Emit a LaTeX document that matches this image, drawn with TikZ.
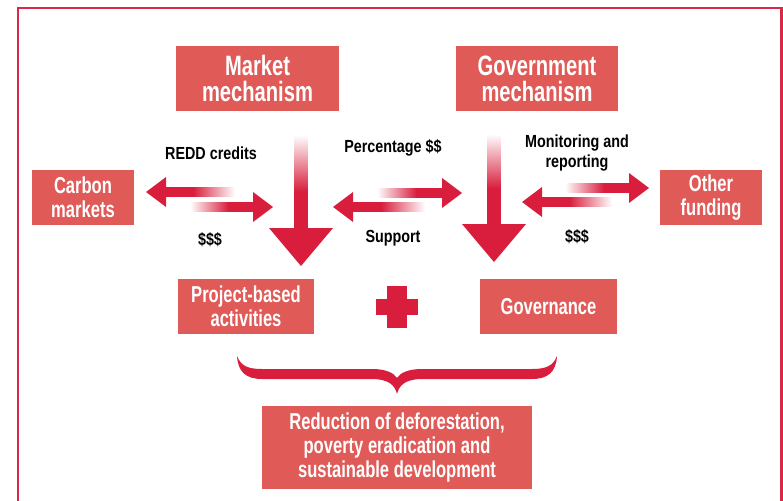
\documentclass[tikz,border=0pt]{standalone}
\usepackage{fontspec}
\setmainfont{Liberation Sans}
\newfontfamily\boxfont{Liberation Sans}[FakeStretch=0.72]
\newfontfamily\lblfont{Liberation Sans}[FakeStretch=0.82]
\usepackage{tikz}
\usetikzlibrary{positioning}

\definecolor{boxred}{RGB}{224,90,88}
\definecolor{arrowred}{RGB}{216,30,60}
\definecolor{framered}{RGB}{220,40,72}

\pgfdeclarehorizontalshading{fadeR}{100bp}{color(0bp)=(white); color(25bp)=(white); color(55bp)=(arrowred); color(100bp)=(arrowred)}
\pgfdeclarehorizontalshading{fadeL}{100bp}{color(0bp)=(arrowred); color(45bp)=(arrowred); color(75bp)=(white); color(100bp)=(white)}
\pgfdeclareverticalshading{fadeD}{100bp}{color(0bp)=(arrowred); color(45bp)=(arrowred); color(75bp)=(white); color(100bp)=(white)}

\newcommand{\arrowR}[2]{%
  \shade[shading=fadeR] ([xshift=-#2pt,yshift=4.5pt]#1) rectangle ([xshift=-19pt,yshift=-4.5pt]#1);
  \fill[arrowred] (#1) -- ([xshift=-20pt,yshift=15pt]#1) -- ([xshift=-20pt,yshift=-15pt]#1) -- cycle;}
\newcommand{\arrowL}[2]{%
  \shade[shading=fadeL] ([xshift=#2pt,yshift=4.5pt]#1) rectangle ([xshift=19pt,yshift=-4.5pt]#1);
  \fill[arrowred] (#1) -- ([xshift=20pt,yshift=15pt]#1) -- ([xshift=20pt,yshift=-15pt]#1) -- cycle;}
\newcommand{\arrowD}[2]{%
  \shade[shading=fadeD] ([xshift=-6.5pt,yshift=#2pt]#1) rectangle ([xshift=6.5pt,yshift=37pt]#1);
  \fill[arrowred] (#1) -- ([xshift=-32pt,yshift=38pt]#1) -- ([xshift=32pt,yshift=38pt]#1) -- cycle;}

\tikzset{
  box/.style={fill=boxred, text=white, align=center, inner sep=0pt,
    font=\boxfont\bfseries\fontsize{23}{24}\selectfont},
  bigbox/.style={box, font=\boxfont\bfseries\fontsize{28}{26}\selectfont},
  lbl/.style={align=center, inner sep=0pt,
    font=\lblfont\bfseries\fontsize{17.5}{20}\selectfont},
}

\begin{document}
\begin{tikzpicture}[x=1pt,y=-1pt]
\useasboundingbox (0,0) rectangle (783,500);
\draw[framered, line width=2.5pt] (18,505) -- (18,8) -- (781.5,8) -- (781.5,505);

% boxes
\node[bigbox, minimum width=163pt, minimum height=65pt] (market) at (257.5,78.5) {Market\\mechanism};
\node[bigbox, minimum width=162pt, minimum height=65pt] (gov) at (537,78.5) {Government\\mechanism};
\node[box, minimum width=102pt, minimum height=55pt] (carbon) at (83,197.5) {Carbon\\markets};
\node[box, minimum width=102pt, minimum height=55pt] (other) at (711,197.5) {Other\\funding};
\node[box, minimum width=136pt, minimum height=55pt] (project) at (246,306.5) {Project-based\\activities};
\node[box, minimum width=137pt, minimum height=55pt] (governance) at (548.5,306.5) {Governance};
\node[box, minimum width=270pt, minimum height=83pt] (result) at (397,447.5) {Reduction of deforestation,\\poverty eradication and\\sustainable development};

% labels
\node[lbl] (redd) at (211,153) {REDD credits};
\node[lbl] (cash1) at (210,240) {\$\$\$};
\node[lbl] (pct) at (393,148) {Percentage \$\$};
\node[lbl] (supp) at (393,238) {Support};
\node[lbl] (mon) at (577,153) {Monitoring and\\reporting};
\node[lbl] (cash2) at (577,237) {\$\$\$};

% arrows
\coordinate (tocarbon) at (146,192);
\coordinate (fromcarbon) at (273,207);
\coordinate (togov) at (462,193);
\coordinate (tomarket) at (333,207);
\coordinate (toother) at (649,188);
\coordinate (fromother) at (522,202);
\coordinate (marketdown) at (301,266);
\coordinate (govdown) at (494,262);
\arrowL{tocarbon}{89}
\arrowR{fromcarbon}{83}
\arrowR{togov}{85}
\arrowL{tomarket}{92}
\arrowR{toother}{84}
\arrowL{fromother}{90}
\arrowD{marketdown}{131}
\arrowD{govdown}{128}

% plus and brace
\fill[arrowred] (376,299) rectangle (418,315);
\fill[arrowred] (387,286) rectangle (407,328);
\fill[arrowred] (237,356) .. controls (238,372) and (246,379) .. (262,379) -- (372,379)
  .. controls (388,379) and (395,385) .. (397,394) .. controls (399,385) and (406,379) .. (422,379)
  -- (532,379) .. controls (548,379) and (556,372) .. (557,356)
  .. controls (553,366) and (546,369) .. (532,369) -- (422,369)
  .. controls (408,369) and (400,373) .. (397,378) .. controls (394,373) and (386,369) .. (372,369)
  -- (262,369) .. controls (248,369) and (241,366) .. (237,356) -- cycle;
\end{tikzpicture}
\end{document}
